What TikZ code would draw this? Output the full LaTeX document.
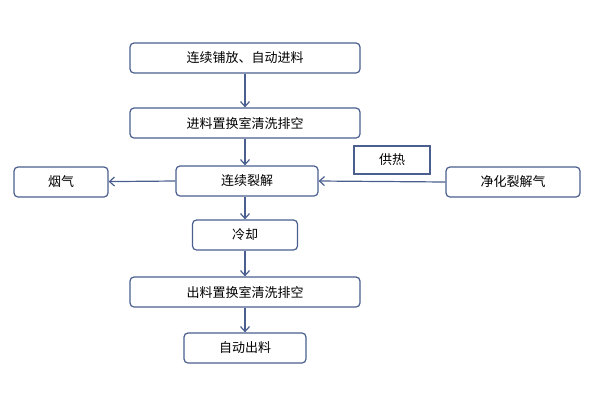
\documentclass[tikz,border=0pt]{standalone}
\usepackage{fontspec}
\newfontfamily\cjk{Noto Sans CJK SC}
\usetikzlibrary{arrows.meta}
\definecolor{boxline}{HTML}{4A5F8F}
\tikzset{
    step-box/.style = {draw=boxline, fill=white, line width=1.2pt, rectangle, rounded corners=4pt, font=\cjk\fontsize{13}{15}\selectfont},
    note-box/.style = {draw=boxline, fill=white, line width=1.2pt, rectangle, font=\cjk\fontsize{13}{15}\selectfont},
    flow/.style = {draw=boxline, line width=1.2pt, -{Straight Barb[length=5pt,width=9pt]}},
}
\begin{document}
\begin{tikzpicture}[x=1pt,y=-1pt]
\useasboundingbox (0,0) rectangle (600,400);
\node [step-box, minimum width=230pt, minimum height=30pt] (feed) at (245,58) {连续铺放、自动进料};
\node [step-box, minimum width=230pt, minimum height=30pt] (purgein) at (245,123) {进料置换室清洗排空};
\node [step-box, minimum width=142pt, minimum height=30pt] (crack) at (247,181) {连续裂解};
\node [step-box, minimum width=94pt, minimum height=30pt] (fume) at (61,182) {烟气};
\node [note-box, minimum width=76pt, minimum height=28pt] (heat) at (392,160) {供热};
\node [step-box, minimum width=134pt, minimum height=30pt] (gas) at (513,182) {净化裂解气};
\node [step-box, minimum width=105pt, minimum height=30pt] (cool) at (245,235) {冷却};
\node [step-box, minimum width=230pt, minimum height=30pt] (purgeout) at (245,292) {出料置换室清洗排空};
\node [step-box, minimum width=122pt, minimum height=30pt] (out) at (245,348) {自动出料};

\draw [flow] (feed) -- (purgein);
\draw [flow] (purgein) -- (purgein|-crack.north);
\draw [flow] (crack.west) -- (fume);
\draw [flow] (gas.west) -- (crack.east);
\draw [flow] (cool|-crack.south) -- (cool);
\draw [flow] (cool) -- (purgeout);
\draw [flow] (purgeout) -- (out);
\end{tikzpicture}
\end{document}
